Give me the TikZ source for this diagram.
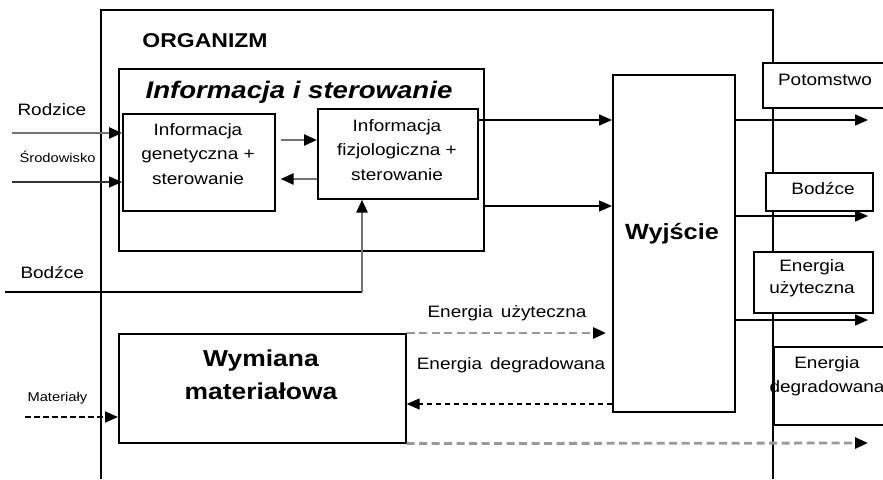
\documentclass[tikz,border=0pt]{standalone}
\usepackage{fontspec}
\setmainfont{Liberation Sans}[FakeStretch=1.15]
\usetikzlibrary{arrows.meta}

\begin{document}
\begin{tikzpicture}[x=1pt, y=-1pt,
  box/.style={draw, line width=1.6pt, fill=white, inner sep=0pt, anchor=north west},
  txt/.style={font=\fontsize{16.5}{24.5}\selectfont, align=center},
  smalltxt/.style={font=\fontsize{12.8}{15}\selectfont},
  bigtxt/.style={font=\bfseries\fontsize{23}{33}\selectfont, align=center},
  tip/.style={-{Triangle[length=13pt,width=11pt,black]}},
  blackarrow/.style={tip, line width=1.5pt},
  greyarrow/.style={tip, line width=2.5pt, draw=black!55},
  greydash/.style={tip, line width=2.8pt, draw=black!40, dash pattern=on 8pt off 4.5pt},
  blackdash/.style={tip, line width=1.5pt, dash pattern=on 5.5pt off 3.5pt}
]
  \useasboundingbox (0,0) rectangle (883,479);
  \clip (0,0) rectangle (883,479);
  \draw[line width=1.7pt] (101,479) -- (101,10) -- (773,10) -- (773,479);
  \node[font=\bfseries\fontsize{20}{24}\selectfont, anchor=base] (orgt) at (205,47) {ORGANIZM};

  \node[box, minimum width=365pt, minimum height=182pt] (info) at (118,68) {};
  \node[font=\bfseries\itshape\fontsize{24}{28}\selectfont, anchor=base] (infot) at (299,98) {Informacja i sterowanie};
  \node[box, minimum width=152pt, minimum height=97pt] (gen) at (122,113) {};
  \node[txt] (gent) at (198,154) {Informacja\\genetyczna +\\sterowanie};
  \node[box, minimum width=160pt, minimum height=90pt] (phys) at (317,108) {};
  \node[txt] (physt) at (397,150) {Informacja\\fizjologiczna +\\sterowanie};

  \node[box, minimum width=122pt, minimum height=337pt] (out) at (612,74) {};
  \node[font=\bfseries\fontsize{22}{26}\selectfont, anchor=base] (outt) at (672,239) {Wyjście};

  \node[box, minimum width=287pt, minimum height=109pt] (wym) at (118,333) {};
  \node[bigtxt] (wymt) at (261,375) {Wymiana\\materiałowa};

  \node[box, minimum width=140pt, minimum height=45pt] (pot) at (762,62) {};
  \node[txt, anchor=base] (pott) at (825,85) {Potomstwo};
  \node[box, minimum width=107pt, minimum height=38pt] (bodr) at (765,172) {};
  \node[txt, anchor=base] (bodrt) at (823,194) {Bodźce};
  \node[box, minimum width=119pt, minimum height=61pt] (eur) at (753,251) {};
  \node[txt, font=\fontsize{16.5}{22}\selectfont] (eurt) at (812,278) {Energia\\użyteczna};
  \node[box, minimum width=140pt, minimum height=78pt] (edr) at (773,346) {};
  \node[txt] (edrt) at (827,376) {Energia\\degradowana};

  \node[txt, anchor=base west] (rodt) at (14,115) {Rodzice};
  \node[smalltxt, anchor=base west] (srodt) at (16,162) {Środowisko};
  \node[txt, anchor=base west] (bodt) at (17,278) {Bodźce};
  \node[smalltxt, anchor=base west] (matt) at (24,401) {Materiały};
  \node[txt, anchor=base] (eut) at (507,317) {Energia\, użyteczna};
  \node[txt, anchor=base] (edt) at (511,369) {Energia\, degradowana};

  \coordinate (rod) at (12,133);
  \coordinate (srod) at (12,182);
  \coordinate (bod) at (5,292);
  \coordinate (bodk) at (362,292);
  \coordinate (mat) at (25,417);
  \coordinate (o1) at (868,120);
  \coordinate (o2) at (868,216);
  \coordinate (o3) at (868,320);
  \coordinate (o4) at (868,443);

  \draw[greyarrow] (rod) -- (gen.west |- rod);
  \draw[blackarrow, draw=black!80] (srod) -- (gen.west |- srod);
  \draw[greyarrow] ([xshift=5pt]gen.east |- 0,140) -- (phys.west |- 0,140);
  \draw[greyarrow] (phys.west |- 0,179) -- ([xshift=5pt]gen.east |- 0,179);
  \draw[blackarrow] (phys.east |- 0,120) -- (out.west |- 0,120);
  \draw[blackarrow] (info.east |- 0,206) -- (out.west |- 0,206);
  \draw[line width=1.5pt] (bod) -- (bodk);
  \draw[greyarrow] (bodk) -- (bodk |- phys.south);

  \draw[blackarrow] (out.east |- o1) -- (o1);
  \draw[blackarrow] (out.east |- o2) -- (o2);
  \draw[blackarrow] (out.east |- o3) -- (o3);

  \draw[greydash, shorten >=6pt] (wym.north east) -- (out.west |- wym.north east);
  \draw[blackdash] (out.west |- 0,404) -- (wym.east |- 0,404);
  \draw[greydash] (wym.south east) -- (o4);
  \draw[blackdash, line width=1.7pt] (mat) -- (wym.west |- mat);
\end{tikzpicture}
\end{document}
